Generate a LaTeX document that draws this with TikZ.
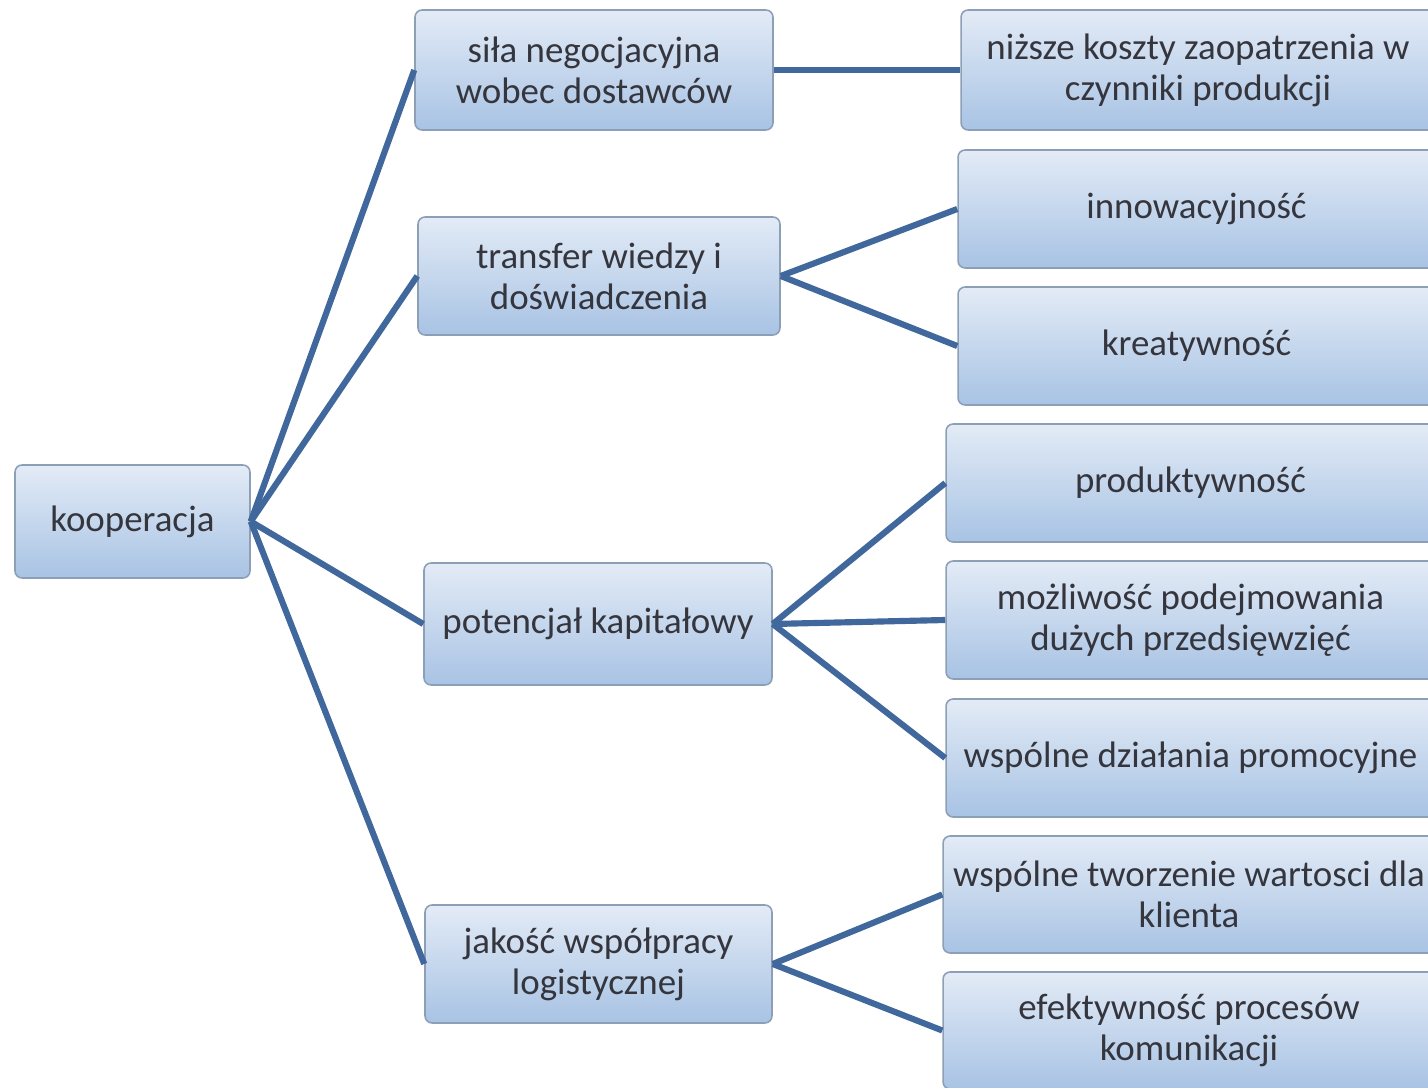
\documentclass[tikz,border=0pt]{standalone}
\usepackage{fontspec}
\setmainfont{Carlito}
\definecolor{boxtop}{HTML}{E3EBF6}
\definecolor{boxbottom}{HTML}{A8C3E4}
\definecolor{boxedge}{HTML}{8D9FB6}
\definecolor{linkblue}{HTML}{41689C}
\definecolor{txt}{HTML}{35353D}
\begin{document}
\begin{tikzpicture}[x=0.02cm, y=-0.02cm,
	box/.style={draw=boxedge, line width=0.9pt, rounded corners=4pt, top color=boxtop, bottom color=boxbottom, text=txt, align=center, inner sep=0pt, font=\fontsize{21}{23.2}\selectfont},
	link/.style={linkblue, line width=3.5pt}]
		\useasboundingbox (0, 0) rectangle (1428, 1088);
		\node [box, minimum width=4.70cm, minimum height=2.26cm] at (132.5, 521.5) (koop) {kooperacja};
		\node [box, minimum width=7.16cm, minimum height=2.40cm] at (594, 70) (sila) {siła negocjacyjna\\wobec dostawców};
		\node [box, minimum width=7.24cm, minimum height=2.36cm] at (599, 276) (transfer) {transfer wiedzy i\\doświadczenia};
		\node [box, minimum width=6.96cm, minimum height=2.44cm] at (598, 624) (kapital) {potencjał kapitałowy};
		\node [box, minimum width=6.94cm, minimum height=2.36cm] at (598.5, 964) (logist) {jakość współpracy\\logistycznej};
		\node [box, minimum width=9.48cm, minimum height=2.40cm] at (1198, 70) (koszty) {niższe koszty zaopatrzenia w\\czynniki produkcji};
		\node [box, minimum width=9.54cm, minimum height=2.36cm] at (1196.5, 209) (innow) {innowacyjność};
		\node [box, minimum width=9.54cm, minimum height=2.36cm] at (1196.5, 346) (kreat) {kreatywność};
		\node [box, minimum width=9.78cm, minimum height=2.36cm] at (1190.5, 483) (produkt) {produktywność};
		\node [box, minimum width=9.78cm, minimum height=2.36cm] at (1190.5, 620) (mozliw) {możliwość podejmowania\\dużych przedsięwzięć};
		\node [box, minimum width=9.78cm, minimum height=2.36cm] at (1190.5, 758) (promo) {wspólne działania promocyjne};
		\node [box, minimum width=9.84cm, minimum height=2.34cm] at (1189, 894.5) (wartosc) {wspólne tworzenie wartosci dla\\klienta};
		\node [box, minimum width=9.84cm, minimum height=2.34cm] at (1189, 1030.5) (komunik) {efektywność procesów\\komunikacji};
		\draw [link] (koop.east) -- (sila.west);
		\draw [link] (koop.east) -- (transfer.west);
		\draw [link] (koop.east) -- (kapital.west);
		\draw [link] (koop.east) -- (logist.west);
		\draw [link] (sila.east) -- (koszty.west);
		\draw [link] (transfer.east) -- (innow.west);
		\draw [link] (transfer.east) -- (kreat.west);
		\draw [link] (kapital.east) -- (produkt.west);
		\draw [link] (kapital.east) -- (mozliw.west);
		\draw [link] (kapital.east) -- (promo.west);
		\draw [link] (logist.east) -- (wartosc.west);
		\draw [link] (logist.east) -- (komunik.west);
	\end{tikzpicture}
\end{document}
